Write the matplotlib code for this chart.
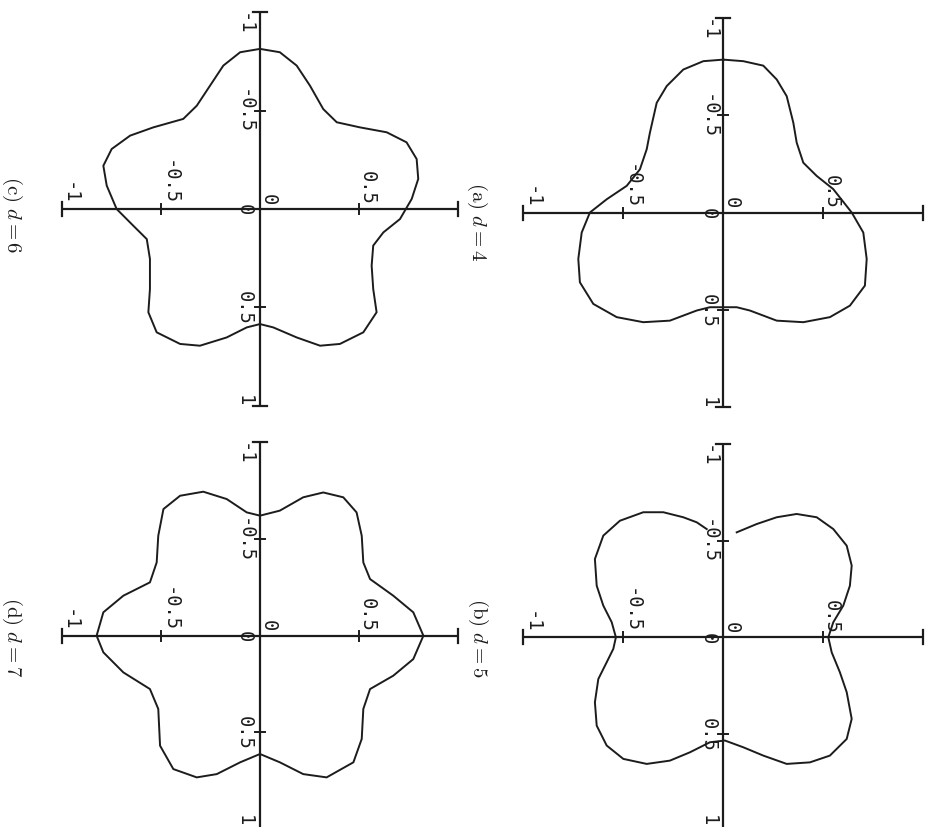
import matplotlib
matplotlib.use("Agg")
import matplotlib.pyplot as plt

plt.rcParams["mathtext.fontset"] = "cm"

# Boundary curves for d = 4, 5, 6, 7 (x, y in plot units).
d4_x = [-0.786, -0.778, -0.755, -0.684, -0.598, -0.462, -0.359, -0.256, -0.188, -0.120,
        0.000, 0.103, 0.239, 0.376, 0.479, 0.538, 0.564, 0.556, 0.504, 0.487,
        0.487, 0.487, 0.504, 0.556, 0.564, 0.538, 0.470, 0.359, 0.239, 0.103,
        0.000, -0.068, -0.137, -0.222, -0.325, -0.410, -0.564, -0.650, -0.735, -0.778,
        -0.786]
d4_y = [0.000, 0.100, 0.200, 0.267, 0.317, 0.350, 0.367, 0.400, 0.467, 0.550,
        0.642, 0.700, 0.717, 0.708, 0.633, 0.533, 0.400, 0.267, 0.133, 0.067,
        0.000, -0.067, -0.133, -0.267, -0.400, -0.533, -0.650, -0.717, -0.725, -0.708,
        -0.667, -0.583, -0.483, -0.417, -0.383, -0.367, -0.333, -0.283, -0.200, -0.100,
        0.000]

d5_x = [-0.543, -0.586, -0.621, -0.638, -0.621, -0.560, -0.474, -0.371, -0.267, -0.164,
        -0.078, 0.000, 0.078, 0.181, 0.284, 0.422, 0.526, 0.612, 0.647, 0.655,
        0.612, 0.569, 0.534, 0.543, 0.595, 0.638, 0.655, 0.629, 0.560, 0.457,
        0.336, 0.216, 0.129, 0.060, 0.000, -0.078, -0.164, -0.267, -0.405, -0.526,
        -0.603, -0.647, -0.647, -0.621, -0.595, -0.560]
d5_y = [0.067, 0.167, 0.267, 0.367, 0.467, 0.550, 0.617, 0.642, 0.633, 0.600,
        0.550, 0.525, 0.542, 0.583, 0.617, 0.642, 0.617, 0.533, 0.433, 0.317,
        0.200, 0.100, 0.008, -0.067, -0.167, -0.267, -0.383, -0.500, -0.583, -0.633,
        -0.642, -0.625, -0.583, -0.550, -0.537, -0.558, -0.600, -0.633, -0.642, -0.600,
        -0.517, -0.400, -0.300, -0.200, -0.133, -0.083]

d6_x = [-0.814, -0.797, -0.729, -0.627, -0.508, -0.441, -0.415, -0.390, -0.339, -0.254,
        -0.153, -0.051, 0.051, 0.119, 0.186, 0.288, 0.407, 0.525, 0.627, 0.686,
        0.695, 0.653, 0.602, 0.585, 0.602, 0.653, 0.695, 0.686, 0.627, 0.525,
        0.407, 0.254, 0.153, 0.085, 0.000, -0.119, -0.220, -0.305, -0.373, -0.415,
        -0.458, -0.525, -0.627, -0.729, -0.797, -0.814]
d6_y = [0.000, 0.100, 0.185, 0.252, 0.319, 0.387, 0.504, 0.639, 0.739, 0.790,
        0.798, 0.765, 0.706, 0.622, 0.571, 0.563, 0.571, 0.588, 0.521, 0.403,
        0.303, 0.185, 0.067, 0.000, -0.067, -0.168, -0.303, -0.403, -0.521, -0.563,
        -0.555, -0.555, -0.571, -0.639, -0.723, -0.773, -0.790, -0.748, -0.655, -0.538,
        -0.387, -0.319, -0.252, -0.185, -0.100, 0.000]

d7_x = [-0.621, -0.647, -0.716, -0.741, -0.716, -0.638, -0.517, -0.379, -0.293, -0.207,
        -0.121, 0.000, 0.121, 0.207, 0.276, 0.379, 0.534, 0.655, 0.733, 0.716,
        0.655, 0.612, 0.655, 0.716, 0.733, 0.690, 0.569, 0.379, 0.276, 0.190,
        0.086, 0.000, -0.121, -0.207, -0.276, -0.379, -0.517, -0.655, -0.724, -0.745,
        -0.707, -0.638, -0.621]
d7_y = [0.000, 0.100, 0.218, 0.319, 0.420, 0.487, 0.513, 0.521, 0.555, 0.672,
        0.773, 0.824, 0.773, 0.672, 0.555, 0.521, 0.513, 0.471, 0.336, 0.218,
        0.100, 0.000, -0.100, -0.218, -0.319, -0.437, -0.504, -0.513, -0.555, -0.689,
        -0.790, -0.824, -0.790, -0.689, -0.555, -0.521, -0.513, -0.487, -0.403, -0.286,
        -0.168, -0.067, 0.000]

captions = [r"$\mathrm{(a)}\ d = 4$", r"$\mathrm{(b)}\ d = 5$",
            r"$\mathrm{(c)}\ d = 6$", r"$\mathrm{(d)}\ d = 7$"]
tick_values = [-1, -0.5, 0, 0.5, 1]
tick_texts = ["-1", "-0.5", "0", "0.5", "1"]

W, H = 929, 828
INK = "#1c1c1c"
fig = plt.figure(figsize=(W / 100, H / 100), dpi=100)
fig.patch.set_facecolor("white")

# The page is set in landscape: each panel's x axis runs down the page,
# its y axis runs to the right.
# (centre column px, centre row px, px per unit across, px per unit down)
panels = [
    (723.3, 213.5, 200.0, 194.5),
    (723.3, 638.3, 200.0, 193.3),
    (260.0, 210.0, 198.3, 196.7),
    (260.0, 636.7, 198.3, 193.3),
]
curves = [(d4_x, d4_y), (d5_x, d5_y), (d6_x, d6_y), (d7_x, d7_y)]
caption_pos = [(477, 221), (478, 638), (12, 215), (12, 637)]
SPAN = 1.15
mono = "DejaVu Sans Mono"
LABEL_SIZE = 13.5

for (cx, cy, sx, sy), (cxs, cys), cap, cpos in zip(panels, curves, captions, caption_pos):
    left = cx - SPAN * sx
    top = cy - SPAN * sy
    ax = fig.add_axes([left / W, 1 - (top + 2 * SPAN * sy) / H,
                       2 * SPAN * sx / W, 2 * SPAN * sy / H])
    ax.set_xlim(-SPAN, SPAN)
    ax.set_ylim(SPAN, -SPAN)
    ax.axis("off")

    # axis lines with end caps and half-unit ticks
    ax.plot([-1, 1], [0, 0], color=INK, lw=1.6, solid_capstyle="butt")
    ax.plot([0, 0], [-1, 1], color=INK, lw=1.6, solid_capstyle="butt")
    cap_h = 7 / sy
    cap_w = 7 / sx
    tk_h = 5 / sy
    tk_w = 5 / sx
    for e in (-1, 1):
        ax.plot([e, e], [-cap_h, cap_h], color=INK, lw=1.6)
        ax.plot([-cap_w, cap_w], [e, e], color=INK, lw=1.6)
    for t in (-0.5, 0.5):
        ax.plot([t, t], [-tk_h, tk_h], color=INK, lw=1.4)
        ax.plot([-tk_w, tk_w], [t, t], color=INK, lw=1.4)

    # labels along the horizontal line (the y axis of the plot)
    for v, s in zip(tick_values[:-1], tick_texts[:-1]):
        ax.annotate(s, (v, 0), xytext=(8, 5), textcoords="offset pixels",
                    rotation=-90, ha="center", va="bottom", fontsize=LABEL_SIZE,
                    family=mono, color=INK)
    # labels along the vertical line (the x axis of the plot)
    end_px = cy + sy  # pixel row of the x = 1 cap
    for v, s in zip(tick_values, tick_texts):
        if v == -1:
            va, dy = "top", 0
        elif v == 1:
            va, dy = "bottom", max(0.0, end_px - (H - 2))
        else:
            va, dy = "center", 0
        ax.annotate(s, (0, v), xytext=(-6, dy), textcoords="offset pixels",
                    rotation=-90, ha="right", va=va, fontsize=LABEL_SIZE,
                    family=mono, color=INK)

    ax.plot(cys, cxs, color=INK, lw=1.4, solid_joinstyle="round")

    fig.text(cpos[0] / W, 1 - cpos[1] / H, cap, rotation=-90,
             ha="center", va="center", fontsize=15, color=INK)

fig.savefig("out.png", dpi=100, facecolor="white")
